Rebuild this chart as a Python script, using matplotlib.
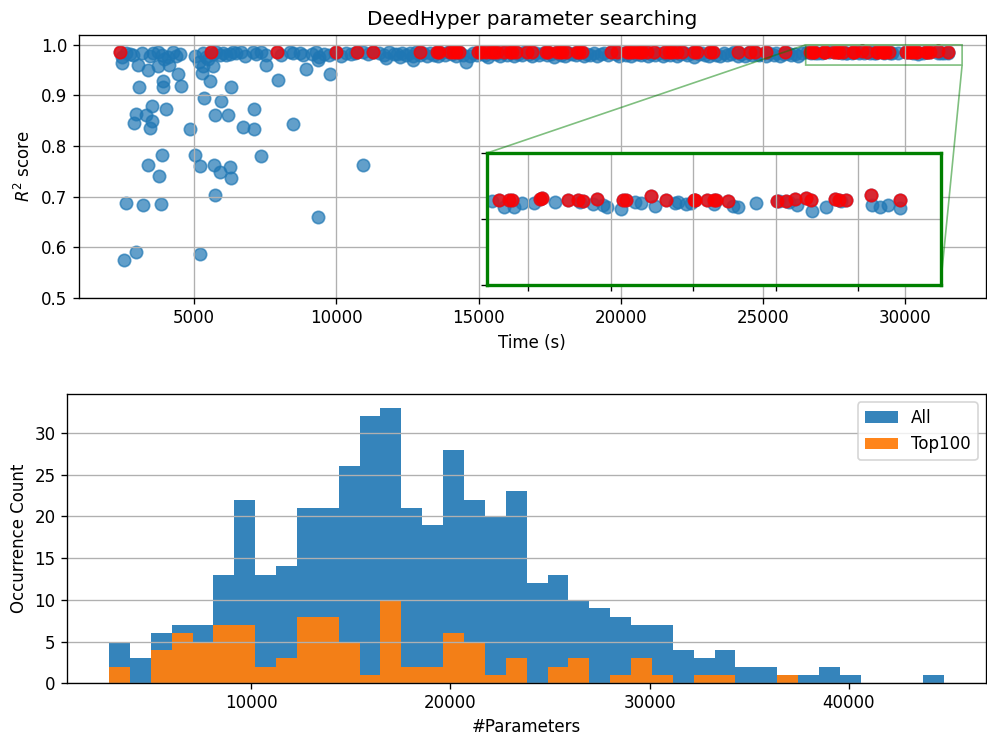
import numpy as np
import matplotlib.pyplot as plt

# scattered early trials (time in s, R^2)
low_time = [2446, 3053, 3028, 3358, 3905, 3895, 4432, 4526, 4105, 3709,
            3519, 2937, 3288, 2888, 3519, 3428, 3999, 3860, 3379, 3754,
            2586, 3193, 3814, 2947, 2526, 4867, 5018, 5218, 5695, 5919,
            6270, 6305, 5744, 5218, 5333, 5954, 5744, 6186, 7088, 6712,
            7088, 8467, 7356, 6281, 5568, 5274, 5309, 5660, 7533, 7954,
            8937, 9779, 9358, 10937, 9361, 14573, 11744, 12679]
low_r2 = [0.965, 0.916, 0.960, 0.951, 0.929, 0.917, 0.942, 0.919, 0.961, 0.958,
          0.879, 0.864, 0.862, 0.846, 0.849, 0.836, 0.873, 0.782, 0.762, 0.741,
          0.687, 0.683, 0.686, 0.591, 0.574, 0.833, 0.782, 0.760, 0.762, 0.749,
          0.758, 0.736, 0.704, 0.586, 0.895, 0.889, 0.862, 0.862, 0.873, 0.838,
          0.834, 0.843, 0.780, 0.916, 0.928, 0.945, 0.958, 0.958, 0.961, 0.930,
          0.953, 0.943, 0.970, 0.762, 0.660, 0.966, 0.973, 0.970]

# converged band, first part
early_time = [2450, 2600, 2737, 2853, 3147, 3438, 3554, 3730, 3849, 3950,
              4081, 4256, 4350, 4491, 5018, 5150, 5309, 5428, 5500, 5660,
              5779, 5895, 6011, 6130, 6250, 6361, 6481, 6650, 6772, 7063,
              7183, 7358, 7534, 8060, 8351, 8467, 8702, 8818, 9150, 9288,
              9404, 9579, 9755, 9950, 10150, 10341, 10516, 10650, 10923, 11100,
              11300, 11509, 11685, 11860, 12035]
early_r2 = [0.975, 0.983, 0.982, 0.979, 0.984, 0.978, 0.983, 0.985, 0.980, 0.972,
            0.976, 0.986, 0.977, 0.981, 0.978, 0.966, 0.984, 0.975, 0.972, 0.982,
            0.986, 0.979, 0.984, 0.980, 0.981, 0.985, 0.983, 0.985, 0.978, 0.985,
            0.982, 0.985, 0.979, 0.980, 0.985, 0.983, 0.984, 0.980, 0.982, 0.985,
            0.976, 0.982, 0.979, 0.984, 0.977, 0.984, 0.982, 0.984, 0.985, 0.981,
            0.985, 0.983, 0.980, 0.985, 0.982]

# converged band, middle part
mid_time = [12120, 12230, 12310, 12460, 12580, 12700, 12790, 12930, 13060, 13170,
            13290, 13440, 13560, 13680, 13810, 13940, 14060, 14190, 14340, 14460,
            14690, 14810, 14940, 15090, 15230, 15340, 15470, 15610, 15740, 15870,
            16010, 16130, 16240, 16390, 16510, 16610, 16760, 16870, 17010, 17120,
            17260, 17390, 17530, 17640, 17790, 17910, 18020, 18160, 18290, 18430,
            18540, 18690, 18810, 18920, 19060, 19170, 19310, 19420, 19560, 19690,
            19830, 19940, 20090, 20190, 20340, 20460, 20570, 20710, 20820, 20970,
            21070, 21210, 21340, 21480, 21590, 21730, 21840, 21990, 22090, 22240,
            22340, 22490, 22590, 22740, 22860, 22970, 23110, 23220, 23360, 23470,
            23610, 23720, 23860, 23970, 24110, 24220, 24360, 24470, 24610, 24720,
            24870, 24970, 25110, 25220, 25370, 25470, 25610, 25720, 25870, 25970,
            26110, 26220, 26380]
mid_r2 = [0.981, 0.976, 0.984, 0.979, 0.983, 0.977, 0.985, 0.980, 0.983, 0.978,
          0.984, 0.980, 0.977, 0.983, 0.979, 0.985, 0.981, 0.978, 0.983, 0.980,
          0.977, 0.983, 0.979, 0.984, 0.980, 0.976, 0.983, 0.981, 0.978, 0.984,
          0.980, 0.983, 0.977, 0.982, 0.979, 0.985, 0.981, 0.978, 0.983, 0.980,
          0.984, 0.979, 0.982, 0.976, 0.983, 0.980, 0.977, 0.984, 0.981, 0.979,
          0.983, 0.978, 0.982, 0.980, 0.984, 0.977, 0.981, 0.983, 0.979, 0.985,
          0.981, 0.977, 0.983, 0.980, 0.978, 0.984, 0.981, 0.979, 0.983, 0.977,
          0.982, 0.980, 0.984, 0.978, 0.982, 0.979, 0.983, 0.977, 0.981, 0.984,
          0.979, 0.983, 0.976, 0.981, 0.984, 0.980, 0.978, 0.983, 0.980, 0.977,
          0.983, 0.979, 0.982, 0.985, 0.978, 0.981, 0.977, 0.983, 0.980, 0.984,
          0.979, 0.982, 0.977, 0.984, 0.980, 0.983, 0.978, 0.981, 0.984, 0.979,
          0.982, 0.978, 0.983]

# converged band, last part (the zoomed region)
late_time = [26560, 26702, 26822, 26923, 27064, 27325, 27627, 27788, 27909, 27961,
             28130, 28291, 28371, 28533, 28774, 28814, 28914, 28974, 29257, 29478,
             29538, 29759, 30041, 30162, 30262, 30435, 30616, 30797, 31167, 31268,
             31357, 31502]
late_r2 = [0.9853, 0.9836, 0.9836, 0.9848, 0.9848, 0.9851, 0.9850, 0.9845, 0.9843, 0.9835,
           0.9830, 0.9850, 0.9848, 0.9840, 0.9848, 0.9850, 0.9845, 0.9848, 0.9845, 0.9840,
           0.9836, 0.9848, 0.9853, 0.9851, 0.9843, 0.9825, 0.9836, 0.9853, 0.9841, 0.9836,
           0.9841, 0.9833]

# top 100 trials
top_time = [2386, 5579, 7919, 10000, 10726, 11274, 12947, 13519, 13600, 13989,
            14105, 14200, 14316, 14982, 15077, 15250, 15428, 15550, 15660, 15895,
            16100, 16186, 16305, 16712, 16888, 17358, 17450, 17765, 17850, 17940,
            18060, 18450, 18526, 18642, 19639, 19870, 20221, 20300, 20396, 20572,
            20680, 20747, 20923, 21158, 21568, 21700, 21800, 21975, 22151, 22561,
            22677, 23147, 23250, 24105, 24551, 24702, 25098, 25779,
            26650, 26770, 26802, 27144, 27164, 27486, 27607, 27667, 27828, 28150,
            28190, 28492, 28673, 29007, 29023, 29168, 29257, 29276, 29426, 30012,
            30121, 30230, 30362, 30423, 30725, 30766, 30854, 31159, 31502]
top_r2 = [0.9860, 0.9855, 0.9855, 0.9857, 0.9850, 0.9852, 0.9856, 0.9858, 0.9855, 0.9859,
          0.9854, 0.9857, 0.9855, 0.9858, 0.9853, 0.9856, 0.9860, 0.9854, 0.9857, 0.9855,
          0.9858, 0.9853, 0.9856, 0.9859, 0.9854, 0.9857, 0.9855, 0.9860, 0.9853, 0.9856,
          0.9858, 0.9854, 0.9857, 0.9855, 0.9859, 0.9853, 0.9856, 0.9858, 0.9854, 0.9857,
          0.9855, 0.9860, 0.9853, 0.9856, 0.9858, 0.9854, 0.9857, 0.9855, 0.9859, 0.9853,
          0.9856, 0.9858, 0.9854, 0.9857, 0.9855, 0.9860, 0.9853, 0.9856,
          0.9858, 0.9856, 0.9858, 0.9860, 0.9863, 0.9856, 0.9858, 0.9855, 0.9861, 0.9856,
          0.9858, 0.9870, 0.9856, 0.9856, 0.9858, 0.9856, 0.9858, 0.9856, 0.9853, 0.9853,
          0.9853, 0.9860, 0.9863, 0.9858, 0.9861, 0.9858, 0.9856, 0.9873, 0.9856]

# histogram of model sizes
param_min, param_max = 2850, 44800
all_counts = [5, 3, 6, 7, 7, 13, 22, 13, 14, 21, 21, 26, 32, 33, 21, 19, 28, 22, 20, 23,
              12, 13, 10, 9, 8, 7, 7, 4, 3, 4, 2, 2, 1, 1, 2, 1, 0, 0, 0, 1]
top_counts = [2, 0, 4, 6, 5, 7, 7, 2, 3, 8, 8, 5, 1, 10, 2, 2, 6, 5, 1, 3,
              0, 2, 3, 0, 1, 3, 1, 0, 1, 1, 0, 0, 1, 0, 0, 0, 0, 0, 0]

all_time = low_time + early_time + mid_time + late_time + top_time
all_r2 = low_r2 + early_r2 + mid_r2 + late_r2 + top_r2

W, H, DPI = 988, 735, 120
fig = plt.figure(figsize=(W / DPI, H / DPI), dpi=DPI)

# top: R^2 vs time
ax1 = fig.add_axes([78.7 / W, 1 - 297.7 / H, (986 - 78.7) / W, (297.7 - 34.7) / H])
ax1.scatter(all_time, all_r2, s=55, color="tab:blue", alpha=0.7)
ax1.scatter(top_time, top_r2, s=55, color="red", alpha=0.75)
ax1.set_xlim(937, 32840)
ax1.set_ylim(0.5, 1.02)
ax1.set_yticks([0.5, 0.6, 0.7, 0.8, 0.9, 1.0])
ax1.set_xlabel("Time (s)")
ax1.set_ylabel("$R^2$ score")
ax1.set_title("DeedHyper parameter searching")
ax1.grid(True)

axins = ax1.inset_axes([0.45, 0.05, 0.5, 0.5])
axins.scatter(all_time, all_r2, s=55, color="tab:blue", alpha=0.7)
axins.scatter(top_time, top_r2, s=55, color="red", alpha=0.75)
axins.set_xlim(26500, 32000)
axins.set_ylim(0.96, 1.0)
axins.set_xticks([27000, 28000, 29000, 30000, 31000])
axins.set_yticks([0.96, 0.98, 1.0])
axins.set_xticklabels([])
axins.set_yticklabels([])
axins.grid(True)
for sp in axins.spines.values():
    sp.set_color("green")
    sp.set_linewidth(2)
ax1.indicate_inset_zoom(axins, edgecolor="green")

# bottom: histogram of #parameters
ax2 = fig.add_axes([67.3 / W, 1 - 683.3 / H, (986 - 67.3) / W, (683.3 - 394) / H])
edges = np.linspace(param_min, param_max, len(all_counts) + 1)
ax2.hist(edges[:-1], bins=edges, weights=all_counts, histtype="stepfilled",
         alpha=0.9, label="All")
n_top = len(top_counts)
ax2.hist(edges[:n_top], bins=edges[:n_top + 1], weights=top_counts,
         histtype="stepfilled", alpha=0.95, label="Top100")
ax2.set_xlabel("#Parameters", labelpad=3.5)
ax2.set_ylabel("Occurrence Count")
ax2.tick_params(axis="x", pad=3)
ax2.grid(True, axis="y")
ax2.legend(loc="upper right")

fig.savefig("out.png", dpi=DPI)
